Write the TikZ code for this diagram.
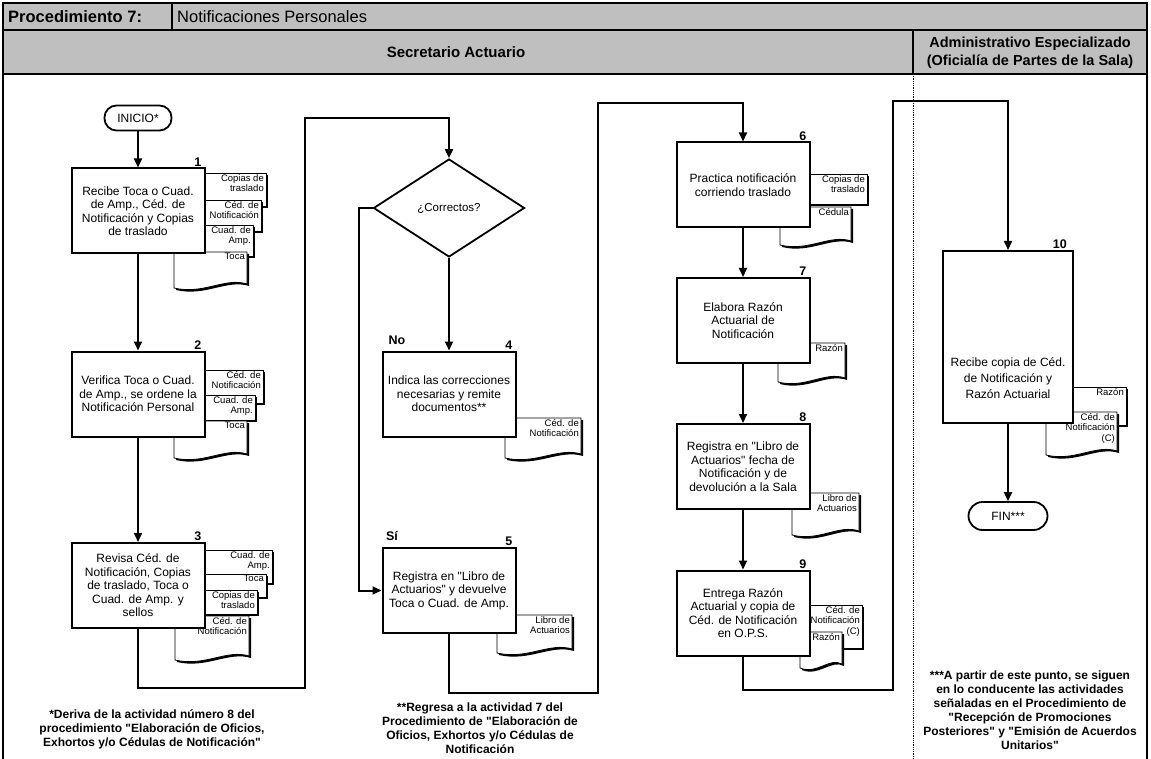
\documentclass[tikz,border=0pt]{standalone}
\usepackage{fontspec}
\setmainfont{Liberation Sans}
\usetikzlibrary{arrows.meta,shapes.geometric}

%Hoja de documento (recta): nombre, x1, y1, x2, y2, texto
\newcommand{\hoja}[6]{%
  \fill[black] ({#2+2},{#3+2}) rectangle ({#4+2},{#5+2});
  \filldraw[fill=white,line width=.8pt] (#2,#3) rectangle (#4,#5);
  \node[doc] (#1) at ({#4-2},{#3+1}) {#6};}

%Hoja de documento con borde ondulado
\newcommand{\hojaola}[6]{%
  \fill[black,shift={(2,2)}] (#2,#3) -- (#4,#3) -- (#4,{#5-4}) .. controls ({#4-0.3*(#4-#2)},{#5-11}) and ({#2+0.4*(#4-#2)},{#5+7}) .. (#2,#5) -- cycle;
  \filldraw[fill=white,line width=.8pt] (#2,#3) -- (#4,#3) -- (#4,{#5-4}) .. controls ({#4-0.3*(#4-#2)},{#5-11}) and ({#2+0.4*(#4-#2)},{#5+7}) .. (#2,#5) -- cycle;
  \node[doc] (#1) at ({#4-2},{#3+1}) {#6};}

\newcommand{\qq}{\textquotedbl}

\begin{document}
\begin{tikzpicture}[x=1pt,y=-1pt,
     box/.style={draw,line width=2pt,fill=white,minimum width=133pt,minimum height=85pt,align=center,inner sep=1pt,font=\fontsize{12}{13.5}\selectfont},
     term/.style={draw,line width=1.8pt,fill=white,rounded corners=12pt,minimum width=67pt,minimum height=25pt,font=\fontsize{12}{13}\selectfont},
     decision/.style={draw,diamond,line width=1.8pt,minimum width=151pt,minimum height=98pt,inner sep=0pt,font=\fontsize{11.5}{13}\selectfont},
     doc/.style={anchor=north east,align=right,inner sep=0pt,font=\fontsize{9.5}{10.5}\selectfont},
     num/.style={anchor=south east,inner sep=1pt,xshift=-3pt,font=\bfseries\fontsize{12.5}{14}\selectfont},
     etq/.style={font=\bfseries\fontsize{12.5}{14}\selectfont},
     nota/.style={align=center,font=\bfseries\fontsize{12}{14}\selectfont},
     conn/.style={line width=2pt},
     arr/.style={conn,-{Triangle[length=9pt,width=8pt]}}
     ]
\useasboundingbox (0,0) rectangle (1151,759);

%Marco y encabezados
\def \xmin{3}
\def \xmax{1147}
\def \xcarril{913}
\def \ymax{759}

\fill[gray!50] (\xmin,3) rectangle (\xmax,74);
\draw[line width=2.5pt] (\xmin,\ymax) -- (\xmin,3) -- (\xmax,3) -- (\xmax,\ymax);
\draw[line width=2pt] (\xmin,30) -- (\xmax,30);
\draw[line width=2.5pt] (\xmin,74) -- (\xmax,74);
\draw[line width=1.5pt] (172,3) -- (172,30);
\draw[line width=2pt] (\xcarril,30) -- (\xcarril,74);
\draw[densely dotted,line width=.8pt] (\xcarril,74) -- (\xcarril,\ymax);

\node[anchor=west,inner sep=0pt,font=\bfseries\fontsize{16.5}{18}\selectfont] (proc) at (8,17) {Procedimiento 7:};
\node[anchor=west,inner sep=0pt,font=\fontsize{16.5}{18}\selectfont] (nombre) at (177,17) {Notificaciones Personales};
\node[font=\bfseries\fontsize{15}{17}\selectfont] (sec) at (456,52) {Secretario Actuario};
\node[align=center,font=\bfseries\fontsize{14.5}{18}\selectfont] (adm) at (1030,53) {Administrativo Especializado\\(Oficialía de Partes de la Sala)};

%Documentos de cada actividad (detras de las cajas)
\hoja{d1a}{180}{173}{266}{206}{Copias de\\traslado}
\hoja{d1b}{180}{200}{261}{231}{Céd. de\\Notificación}
\hoja{d1c}{180}{225}{253}{256}{Cuad. de\\Amp.}
\hojaola{d1d}{174}{252}{247}{288}{Toca}

\hoja{d2a}{180}{370}{263}{403}{Céd. de\\Notificación}
\hoja{d2b}{180}{395}{255}{420}{Cuad. de\\Amp.}
\hojaola{d2c}{174}{421}{247}{458}{Toca}

\hoja{d3a}{180}{550}{272}{583}{Cuad. de\\Amp.}
\hoja{d3b}{180}{574}{266}{597}{Toca}
\hoja{d3c}{180}{590}{257}{614}{Copias de\\traslado}
\hojaola{d3d}{175}{616}{249}{660}{Céd. de\\Notificación}

\hojaola{d4a}{505}{418}{581}{458}{Céd. de\\Notificación}
\hojaola{d5a}{497}{615}{572}{653}{Libro de\\Actuarios}

\hoja{d6a}{790}{174}{867}{204}{Copias de\\traslado}
\hojaola{d6b}{780}{207}{851}{245}{Cédula}
\hojaola{d7a}{778}{343}{845}{382}{Razón}
\hojaola{d8a}{792}{493}{859}{535}{Libro de\\Actuarios}
\hoja{d9a}{790}{605}{862}{648}{Céd. de\\Notificación\\(C)}
\hojaola{d9b}{800}{632}{842}{668}{Razón}

\hoja{d10a}{1050}{387}{1126}{425}{Razón}
\hojaola{d10b}{1046}{412}{1117}{455}{Céd. de\\Notificación\\(C)}

%Actividades
\node[term] (inicio) at (138,118) {INICIO*};

\foreach \n/\x/\y/\txt in {
   1/138/211/{Recibe Toca o Cuad.\\de Amp., Céd. de\\Notificación y Copias\\de traslado},
   2/138/394/{Verifica Toca o Cuad.\\de Amp., se ordene la\\Notificación Personal},
   3/138/585.5/{Revisa Céd. de\\Notificación, Copias\\de traslado, Toca o\\Cuad. de Amp. y\\sellos},
   4/449/394/{Indica las correcciones\\necesarias y remite\\documentos**},
   5/449/590.5/{Registra en \qq Libro de\\Actuarios\qq{} y devuelve\\Toca o Cuad. de Amp.},
   6/743/185/{Practica notificación\\corriendo traslado},
   7/743/320.5/{Elabora Razón\\Actuarial de\\Notificación},
   8/743/466.5/{Registra en \qq Libro de\\Actuarios\qq{} fecha de\\Notificación y de\\devolución a la Sala},
   9/743/613/{Entrega Razón\\Actuarial y copia de\\Céd. de Notificación\\en O.P.S.}}
   {
   \node[box,label={[num]north east:\n}] (b\n) at (\x,\y) {\txt};
   }

\node[box,minimum width=130pt,minimum height=172pt,label={[num,xshift=-3pt]north east:10}] (b10) at (1008,337) {};
\node[align=center,font=\fontsize{12}{16}\selectfont] (t10) at (1008,378) {Recibe copia de Céd.\\de Notificación y\\Razón Actuarial};

\node[decision] (dec) at (449,208) {¿Correctos?};
\node[etq] (no) at (397,340) {No};
\node[etq] (si) at (392,536) {Sí};

\node[term,minimum width=79pt,minimum height=28pt,rounded corners=14pt] (fin) at (1008,516) {FIN***};

%Puntos de quiebre de los conectores largos
\coordinate (c1) at (305,688);
\coordinate (c2) at (305,118);
\coordinate (c3) at (598,693);
\coordinate (c4) at (598,103);
\coordinate (c5) at (893,690);
\coordinate (c6) at (893,101);

%Conectores
\draw[arr] (inicio) -- (inicio |- b1.north);
\draw[arr] (b1.south) -- (b1.south |- b2.north);
\draw[arr] (b2.south) -- (b2.south |- b3.north);
\draw[arr] (b3.south) |- (c1) -- (c2) -| (dec.north);
\draw[arr] (dec.south) -- (dec.south |- b4.north);
\draw[arr] (dec.west) -- ++(-14,0) |- (b5.west);
\draw[arr] (b5.south) |- (c3) -- (c4) -| (b6.north);
\draw[arr] (b6.south) -- (b6.south |- b7.north);
\draw[arr] (b7.south) -- (b7.south |- b8.north);
\draw[arr] (b8.south) -- (b8.south |- b9.north);
\draw[arr] (b9.south) |- (c5) -- (c6) -| (b10.north);
\draw[arr] (b10.south) -- (b10.south |- fin.north);

%Notas al pie
\node[nota] (n1) at (152,729) {*Deriva de la actividad número 8 del\\procedimiento \qq Elaboración de Oficios,\\Exhortos y/o Cédulas de Notificación\qq};
\node[nota] (n2) at (480,728) {**Regresa a la actividad 7 del\\Procedimiento de \qq Elaboración de\\Oficios, Exhortos y/o Cédulas de\\Notificación};
\node[nota] (n3) at (1030,710) {***A partir de este punto, se siguen\\en lo conducente las actividades\\señaladas en el Procedimiento de\\\qq Recepción de Promociones\\Posteriores\qq{} y \qq Emisión de Acuerdos\\Unitarios\qq};
\end{tikzpicture}
\end{document}
